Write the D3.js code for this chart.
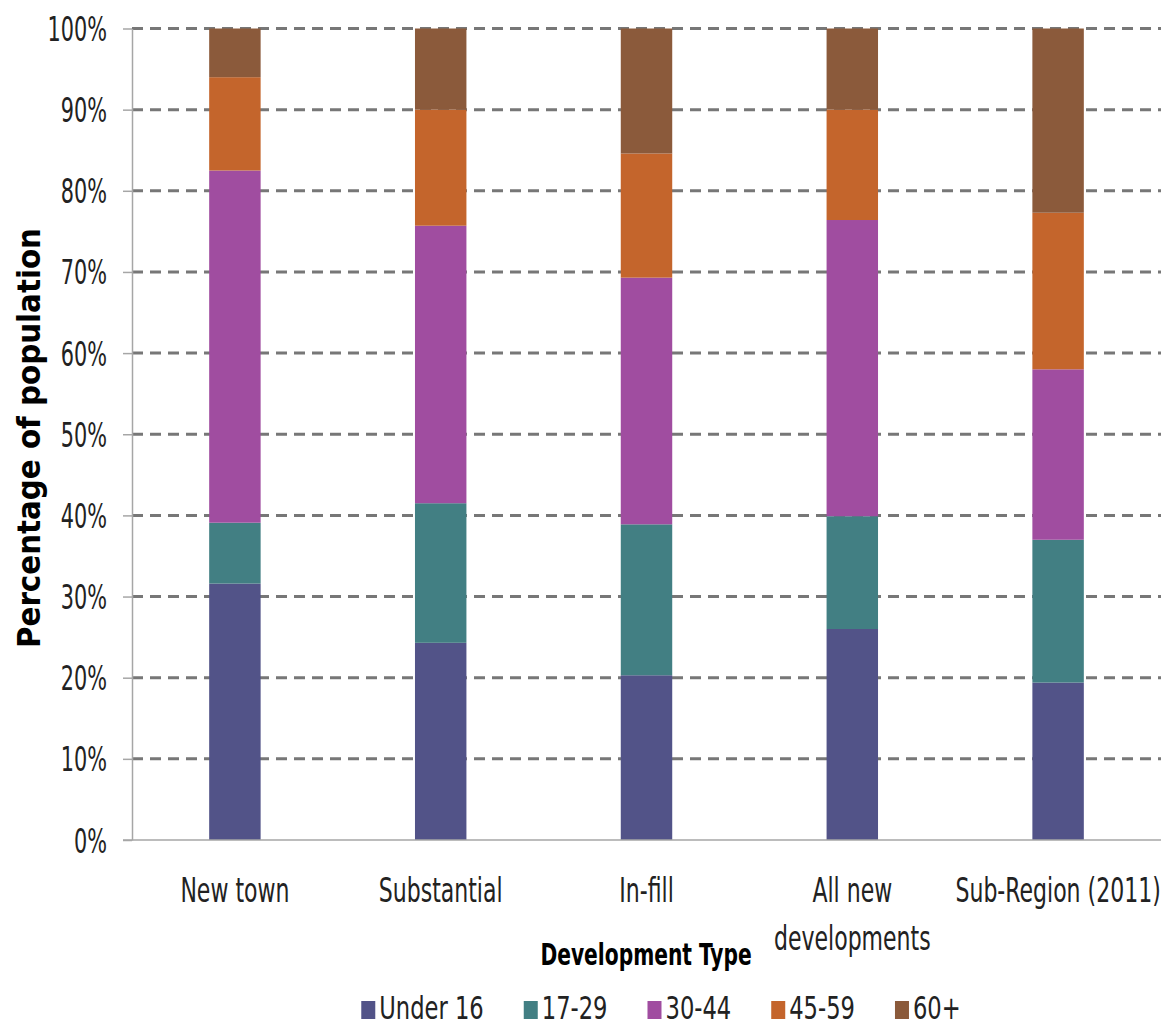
<!DOCTYPE html>
<html>
<head>
<meta charset="utf-8">
<script src="https://cdn.jsdelivr.net/npm/d3@7"></script>
<style>
	body { margin: 0; background: #fff; }
	.narrow { font-family: "Liberation Sans Narrow", "Arial Narrow", "DejaVu Sans Condensed", sans-serif; fill: #222; }
</style>
</head>
<body>
<div class="container"></div>
<script>
// chart data
var categories = ["New town", "Substantial", "In-fill", "All new developments", "Sub-Region (2011)"];
var categoryLines = [["New town"], ["Substantial"], ["In-fill"], ["All new", "developments"], ["Sub-Region (2011)"]];
var ageGroups = ["Under 16", "17-29", "30-44", "45-59", "60+"];
var under16 = [31.6, 24.3, 20.3, 26.0, 19.4];
var age17to29 = [7.5, 17.2, 18.6, 13.9, 17.6];
var age30to44 = [43.4, 34.2, 30.4, 36.5, 21.0];
var age45to59 = [11.5, 14.3, 15.3, 13.6, 19.3];
var age60plus = [6.0, 10.0, 15.4, 10.0, 22.7];
var yTicks = [0, 0.1, 0.2, 0.3, 0.4, 0.5, 0.6, 0.7, 0.8, 0.9, 1];
var colors = ["#525388", "#427f83", "#a04da0", "#c4652c", "#8b5a3b"];

var width = 1161, height = 1026;
var plotLeft = 132, plotRight = 1161, plotTop = 28.5, plotBottom = 840;
var textScale = 0.72; // squeeze the condensed font down to the narrow look

var svg = d3.select(".container").append("svg")
	.attr("width", width)
	.attr("height", height);

// build rows for the stack
var seriesValues = [under16, age17to29, age30to44, age45to59, age60plus];
var rows = categories.map(function (c, i) {
	var r = {cat: c};
	ageGroups.forEach(function (g, j) { r[g] = seriesValues[j][i]; });
	return r;
});

var stacked = d3.stack().keys(ageGroups).offset(d3.stackOffsetExpand)(rows);

var x = d3.scaleBand()
	.domain(categories)
	.range([plotLeft, plotRight])
	.paddingInner(0.75)
	.paddingOuter(0.375);

var y = d3.scaleLinear().domain([0, 1]).range([plotBottom, plotTop]);

var color = d3.scaleOrdinal().domain(ageGroups).range(colors);

// dashed gridlines
svg.append("g").selectAll("line")
	.data(yTicks.filter(function (d) { return d > 0; }))
	.enter().append("line")
		.attr("x1", plotLeft)
		.attr("x2", plotRight)
		.attr("y1", function (d) { return y(d); })
		.attr("y2", function (d) { return y(d); })
		.style("stroke", "#777")
		.style("stroke-width", 3)
		.style("stroke-dasharray", "11,7");

// y axis
var yAxis = svg.append("g")
	.attr("transform", "translate(" + plotLeft + ",0)")
	.call(d3.axisLeft(y).tickValues(yTicks).tickSize(9).tickSizeOuter(0).tickFormat(d3.format(".0%")));

yAxis.select(".domain").style("stroke", "#a6a6a6").style("stroke-width", 1.5);
yAxis.selectAll(".tick line").style("stroke", "#a6a6a6").style("stroke-width", 1.5);
yAxis.selectAll(".tick text")
	.attr("class", "narrow")
	.attr("x", 0)
	.attr("dy", 0)
	.attr("transform", "translate(-25,12) scale(0.68,1)")
	.attr("font-family", null)
	.attr("font-size", null)
	.style("font-size", "34px");

// bars
svg.append("g").selectAll("g")
	.data(stacked)
	.enter().append("g")
		.style("fill", function (d) { return color(d.key); })
	.selectAll("rect")
	.data(function (d) { return d; })
	.enter().append("rect")
		.attr("x", function (d) { return x(d.data.cat); })
		.attr("width", x.bandwidth())
		.attr("y", function (d) { return y(d[1]); })
		.attr("height", function (d) { return y(d[0]) - y(d[1]); });

// x axis baseline
svg.append("line")
	.attr("x1", plotLeft - 9)
	.attr("x2", plotRight)
	.attr("y1", plotBottom)
	.attr("y2", plotBottom)
	.style("stroke", "#a6a6a6")
	.style("stroke-width", 1.5);

// category labels
var catLabels = svg.append("g").selectAll("g")
	.data(categories)
	.enter().append("g")
		.attr("transform", function (d) { return "translate(" + (x(d) + x.bandwidth() / 2) + ",902)"; });

catLabels.selectAll("text")
	.data(function (d, i) { return categoryLines[i]; })
	.enter().append("text")
		.attr("class", "narrow")
		.attr("text-anchor", "middle")
		.attr("transform", function (d, i) { return "translate(0," + (i * 48) + ") scale(" + textScale + ",1)"; })
		.style("font-size", "34px")
		.text(function (d) { return d; });

// axis titles
svg.append("text")
	.attr("class", "narrow")
	.attr("text-anchor", "middle")
	.attr("transform", "translate(646,965) scale(0.75,1)")
	.style("font-size", "30px")
	.style("font-weight", "bold")
	.style("fill", "#000")
	.text("Development Type");

svg.append("text")
	.attr("text-anchor", "middle")
	.attr("transform", "translate(40,438) rotate(-90)")
	.attr("textLength", 420)
	.attr("lengthAdjust", "spacingAndGlyphs")
	.style("font-family", "'DejaVu Sans', Verdana, sans-serif")
	.style("font-size", "32px")
	.style("font-weight", "bold")
	.style("fill", "#000")
	.text("Percentage of population");

// legend, laid out from measured label widths
var legendScale = 0.786;
var legend = svg.append("g");
var items = legend.selectAll("g")
	.data(ageGroups)
	.enter().append("g");

items.append("rect")
	.attr("y", 1001)
	.attr("width", 14)
	.attr("height", 18)
	.style("fill", function (d) { return color(d); });

items.append("text")
	.attr("class", "narrow")
	.style("font-size", "32px")
	.text(function (d) { return d; });

var pos = 0;
items.each(function () {
	var g = d3.select(this);
	var w = g.select("text").node().getComputedTextLength() * legendScale;
	g.select("text").attr("transform", "translate(" + (pos + 18) + ",1019) scale(" + legendScale + ",1)");
	g.select("rect").attr("x", pos);
	pos += 18 + w + 40;
});
var legendWidth = pos - 40;
legend.attr("transform", "translate(" + (661 - legendWidth / 2) + ",0)");
</script>
</body>
</html>
